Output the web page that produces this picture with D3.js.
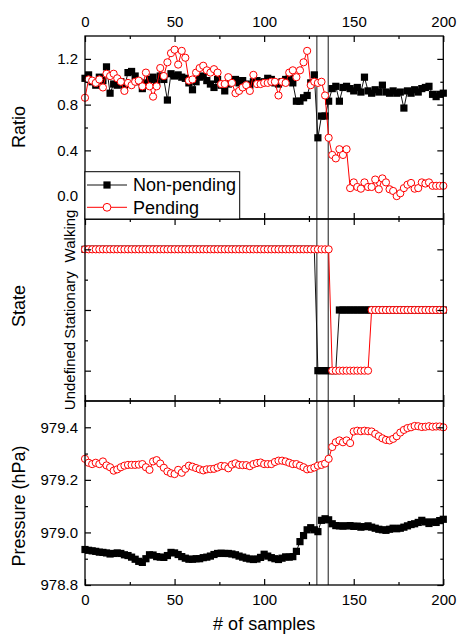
<!DOCTYPE html>
<html>
<head>
<meta charset="utf-8">
<script src="https://cdn.jsdelivr.net/npm/d3@7"></script>
<style>
  body { margin: 0; background: #fff; }
  text { font-family: "Liberation Sans", Arial, Helvetica, sans-serif; fill: #000; }
</style>
</head>
<body>
<svg id="chart" width="457" height="635"></svg>
<script>
// Sample index of each plotted point
const samples = d3.range(0, 201, 2);

// Ratio panel
const ratioNonPending = [
  1.03, 1.06, 1.00, 0.97, 1.04, 1.01, 1.13, 0.90, 0.98, 0.97,
  1.00, 0.95, 1.08, 1.09, 1.05, 1.00, 0.94, 0.99, 1.02, 1.04,
  0.99, 1.05, 1.02, 0.84, 1.07, 1.05, 1.06, 1.04, 1.03, 0.99,
  0.93, 1.00, 1.04, 1.05, 1.01, 0.98, 0.95, 1.02, 0.97, 0.92,
  0.98, 1.00, 1.02, 0.99, 1.01, 0.98, 0.97, 1.00, 1.01, 0.99,
  1.00, 1.03, 1.02, 0.99, 0.98, 1.00, 1.02, 1.03, 0.99, 0.83,
  0.83, 0.86, 0.88, 0.99, 1.06, 0.51, 0.70, 0.70, 0.83, 0.94,
  0.96, 0.83, 0.95, 0.96, 0.94, 0.92, 0.95, 0.91, 1.04, 0.92,
  0.90, 0.93, 0.91, 0.97, 0.91, 0.90, 0.92, 0.90, 0.91, 0.77,
  0.92, 0.90, 0.93, 0.91, 0.94, 0.95, 0.96, 0.89, 0.87, 0.89,
  0.90
];
const ratioPending = [
  0.86, 1.02, 1.01, 0.99, 1.02, 0.95, 1.07, 1.05, 1.07, 1.03,
  1.00, 0.92, 0.99, 0.97, 1.00, 1.01, 0.96, 1.08, 0.96, 0.87,
  0.96, 1.12, 1.05, 1.17, 1.25, 1.28, 1.15, 1.27, 1.21, 1.01,
  1.02, 1.08, 1.12, 1.14, 1.10, 1.08, 1.11, 1.08, 0.98, 0.98,
  1.04, 0.99, 0.90, 0.92, 0.95, 0.97, 0.92, 1.06, 0.98, 0.98,
  0.99, 0.99, 1.00, 1.00, 0.88, 1.00, 0.99, 1.08, 1.10, 1.04,
  1.10, 1.17, 1.27, 0.97, 1.00, 0.99, 1.00, 0.88, 0.51, 0.36,
  0.33, 0.41, 0.36, 0.41, 0.07, 0.12, 0.08, 0.065, 0.12, 0.08,
  0.08, 0.145, 0.06, 0.155, 0.12, 0.06, 0.045, 0.00, 0.025, 0.07,
  0.10, 0.115, 0.065, 0.07, 0.12, 0.11, 0.12, 0.09, 0.09, 0.09,
  0.09
];

// State panel: 0 = Undefined, 1 = Stationary, 2 = Walking
const stateNonPending = [
  2, 2, 2, 2, 2, 2, 2, 2, 2, 2,
  2, 2, 2, 2, 2, 2, 2, 2, 2, 2,
  2, 2, 2, 2, 2, 2, 2, 2, 2, 2,
  2, 2, 2, 2, 2, 2, 2, 2, 2, 2,
  2, 2, 2, 2, 2, 2, 2, 2, 2, 2,
  2, 2, 2, 2, 2, 2, 2, 2, 2, 2,
  2, 2, 2, 2, 2, 0, 0, 0, 0, 0,
  0, 1, 1, 1, 1, 1, 1, 1, 1, 1,
  1, 1, 1, 1, 1, 1, 1, 1, 1, 1,
  1, 1, 1, 1, 1, 1, 1, 1, 1, 1,
  1
];
const statePending = [
  2, 2, 2, 2, 2, 2, 2, 2, 2, 2,
  2, 2, 2, 2, 2, 2, 2, 2, 2, 2,
  2, 2, 2, 2, 2, 2, 2, 2, 2, 2,
  2, 2, 2, 2, 2, 2, 2, 2, 2, 2,
  2, 2, 2, 2, 2, 2, 2, 2, 2, 2,
  2, 2, 2, 2, 2, 2, 2, 2, 2, 2,
  2, 2, 2, 2, 2, 2, 2, 2, 2, 0,
  0, 0, 0, 0, 0, 0, 0, 0, 0, 0,
  1, 1, 1, 1, 1, 1, 1, 1, 1, 1,
  1, 1, 1, 1, 1, 1, 1, 1, 1, 1,
  1
];
const stateNames = ["Undefined", "Stationary", "Walking"];

// Pressure panel (hPa)
const pressureNonPending = [
  978.935, 978.932, 978.930, 978.928, 978.925, 978.924, 978.922, 978.918, 978.920, 978.922,
  978.920, 978.915, 978.912, 978.906, 978.898, 978.890, 978.886, 978.900, 978.915, 978.914,
  978.908, 978.906, 978.905, 978.912, 978.924, 978.922, 978.916, 978.908, 978.902, 978.898,
  978.898, 978.900, 978.900, 978.904, 978.906, 978.910, 978.916, 978.920, 978.921, 978.920,
  978.920, 978.918, 978.915, 978.910, 978.906, 978.902, 978.899, 978.897, 978.899, 978.905,
  978.917, 978.910, 978.904, 978.900, 978.897, 978.902, 978.907, 978.906, 978.908, 978.928,
  978.965, 978.988, 979.010, 979.018, 979.010, 979.003, 979.046, 979.052, 979.048, 979.033,
  979.026, 979.025, 979.024, 979.025, 979.026, 979.023, 979.024, 979.020, 979.022, 979.025,
  979.020, 979.016, 979.012, 979.010, 979.008, 979.012, 979.016, 979.014, 979.016, 979.020,
  979.025, 979.030, 979.033, 979.038, 979.046, 979.040, 979.034, 979.040, 979.038, 979.045,
  979.050
];
const pressurePending = [
  979.280, 979.265, 979.260, 979.265, 979.260, 979.270, 979.255, 979.248, 979.235, 979.240,
  979.248, 979.254, 979.257, 979.257, 979.257, 979.258, 979.260, 979.248, 979.238, 979.270,
  979.275, 979.262, 979.246, 979.232, 979.225, 979.222, 979.238, 979.227, 979.242, 979.254,
  979.250, 979.245, 979.240, 979.236, 979.240, 979.241, 979.242, 979.247, 979.253, 979.252,
  979.244, 979.258, 979.263, 979.257, 979.256, 979.256, 979.252, 979.260, 979.264, 979.266,
  979.260, 979.260, 979.260, 979.268, 979.273, 979.273, 979.270, 979.265, 979.260, 979.260,
  979.254, 979.248, 979.240, 979.242, 979.247, 979.254, 979.257, 979.262, 979.280, 979.325,
  979.343, 979.350, 979.343, 979.350, 979.340, 979.384, 979.387, 979.385, 979.387, 979.385,
  979.384, 979.375, 979.366, 979.358, 979.352, 979.350, 979.356, 979.366, 979.380, 979.390,
  979.397, 979.400, 979.405, 979.404, 979.401, 979.402, 979.404, 979.402, 979.403, 979.403,
  979.400
];

// Axis ticks
const xMajor = [0, 50, 100, 150, 200];
const xMinor = [25, 75, 125, 175];
const ratioMajor = [0.0, 0.4, 0.8, 1.2];
const ratioMinor = [0.2, 0.6, 1.0];
const stateMajor = [0, 1, 2];
const stateMinor = [0.5, 1.5];
const pressureMajor = [978.8, 979.0, 979.2, 979.4];
const pressureMinor = [978.9, 979.1, 979.3];

// Samples where the state changes
const transitionSamples = [129.4, 135.8];

const seriesNames = ["Non-pending", "Pending"];

// ---------------------------------------------------------------
const svg = d3.select("#chart");
const left = 85, right = 443.3;
const x = d3.scaleLinear().domain([0, 200]).range([left, right]);

const panels = [
  { top: 36, bottom: 219, domain: [-0.2, 1.4], major: ratioMajor, minor: ratioMinor,
    fmt: d3.format(".1f"), a: ratioNonPending, b: ratioPending, title: "Ratio", titleY: 127 },
  { top: 219, bottom: 401, domain: [-0.5, 2.5], major: stateMajor, minor: stateMinor,
    fmt: () => "", a: stateNonPending, b: statePending, title: "State", titleY: 306 },
  { top: 401, bottom: 585, domain: [978.8, 979.5], major: pressureMajor, minor: pressureMinor,
    fmt: d3.format(".1f"), a: pressureNonPending, b: pressurePending, title: "Pressure (hPa)", titleY: 506 }
];

const plotTop = panels[0].top, plotBottom = panels[2].bottom;

// transition markers spanning all panels
svg.append("g").selectAll("line").data(transitionSamples).join("line")
  .attr("x1", d => x(d)).attr("x2", d => x(d))
  .attr("y1", plotTop).attr("y2", plotBottom)
  .attr("stroke", "#5a5a5a").attr("stroke-width", 1.4);

panels.forEach((p, i) => {
  const y = d3.scaleLinear().domain(p.domain).range([p.bottom, p.top]);
  p.y = y;
  const g = svg.append("g");

  const ptsA = samples.map((s, k) => [s, p.a[k]]);
  const ptsB = samples.map((s, k) => [s, p.b[k]]);
  const line = d3.line().x(d => x(d[0])).y(d => y(d[1]));

  // Non-pending: black line + filled squares
  g.append("path").attr("d", line(ptsA))
    .attr("fill", "none").attr("stroke", "#111").attr("stroke-width", 1);
  const sq = 7.2;
  g.append("g").selectAll("rect").data(ptsA).join("rect")
    .attr("x", d => x(d[0]) - sq / 2).attr("y", d => y(d[1]) - sq / 2)
    .attr("width", sq).attr("height", sq).attr("fill", "#000");

  // Pending: red line + open circles
  g.append("path").attr("d", line(ptsB))
    .attr("fill", "none").attr("stroke", "#ff0000").attr("stroke-width", 1);
  g.append("g").selectAll("circle").data(ptsB).join("circle")
    .attr("cx", d => x(d[0])).attr("cy", d => y(d[1])).attr("r", 3.6)
    .attr("fill", "#fff").attr("stroke", "#ff0000").attr("stroke-width", 1);

  // frame
  svg.append("rect").attr("x", left).attr("y", p.top)
    .attr("width", right - left).attr("height", p.bottom - p.top)
    .attr("fill", "none").attr("stroke", "#000").attr("stroke-width", 1.3);

  // axes with inward ticks on all sides
  const ax = svg.append("g").attr("class", "axes");
  const addAxis = (gen, tx, ty) => {
    const a = ax.append("g").attr("transform", `translate(${tx},${ty})`).call(gen);
    a.select(".domain").remove();
    a.selectAll(".tick line").attr("stroke", "#000").attr("stroke-width", 1.2);
    a.selectAll("text").style("font-size", "15px").attr("fill", "#000");
    return a;
  };
  addAxis(d3.axisLeft(y).tickValues(p.major).tickSize(-6).tickPadding(7).tickFormat(p.fmt), left, 0);
  addAxis(d3.axisLeft(y).tickValues(p.minor).tickSize(-3).tickFormat(() => ""), left, 0);
  addAxis(d3.axisRight(y).tickValues(p.major).tickSize(-6).tickFormat(() => ""), right, 0);
  addAxis(d3.axisRight(y).tickValues(p.minor).tickSize(-3).tickFormat(() => ""), right, 0);
  addAxis(d3.axisTop(x).tickValues(xMajor).tickSize(-6).tickPadding(9)
    .tickFormat(i === 0 ? d3.format("d") : () => ""), 0, p.top);
  addAxis(d3.axisTop(x).tickValues(xMinor).tickSize(-3).tickFormat(() => ""), 0, p.top);
  addAxis(d3.axisBottom(x).tickValues(xMajor).tickSize(-6).tickPadding(9)
    .tickFormat(i === 2 ? d3.format("d") : () => ""), 0, p.bottom);
  addAxis(d3.axisBottom(x).tickValues(xMinor).tickSize(-3).tickFormat(() => ""), 0, p.bottom);

  // panel y title
  svg.append("text")
    .attr("transform", `translate(25,${p.titleY}) rotate(-90)`)
    .attr("text-anchor", "middle").style("font-size", "18px").text(p.title);
});

// state category labels, written vertically beside the state panel
const stateLabelY = [376, 305, 236];
svg.append("g").selectAll("text").data(stateNames).join("text")
  .attr("transform", (d, k) => `translate(75,${stateLabelY[k]}) rotate(-90)`)
  .attr("text-anchor", "middle").style("font-size", "15px").text(d => d);

// x axis title
svg.append("text").attr("x", (left + right) / 2).attr("y", 630)
  .attr("text-anchor", "middle").style("font-size", "18px").text("# of samples");

// legend
const lg = svg.append("g");
lg.append("rect").attr("x", left).attr("y", 171.7).attr("width", 154.7).attr("height", 47.3)
  .attr("fill", "#fff").attr("stroke", "#000").attr("stroke-width", 1);
const legendRows = [185, 207.3];
seriesNames.forEach((name, k) => {
  const ly = legendRows[k];
  const col = k === 0 ? "#111" : "#ff0000";
  lg.append("line").attr("x1", 87).attr("x2", 127).attr("y1", ly).attr("y2", ly)
    .attr("stroke", col).attr("stroke-width", 1);
  if (k === 0) {
    lg.append("rect").attr("x", 107 - 3.6).attr("y", ly - 3.6).attr("width", 7.2).attr("height", 7.2).attr("fill", "#000");
  } else {
    lg.append("circle").attr("cx", 107).attr("cy", ly).attr("r", 3.9)
      .attr("fill", "#fff").attr("stroke", "#ff0000").attr("stroke-width", 1);
  }
  lg.append("text").attr("x", 133).attr("y", ly + 6.3).style("font-size", "18px").text(name);
});
</script>
</body>
</html>
